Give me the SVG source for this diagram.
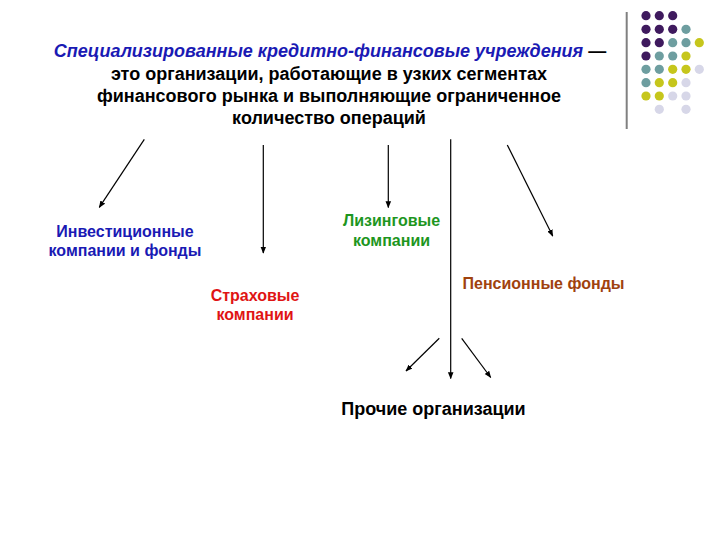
<svg xmlns="http://www.w3.org/2000/svg" width="720" height="540" viewBox="0 0 720 540">
<style>
.t{font-family:"Liberation Sans",Arial,sans-serif;font-weight:bold;text-anchor:middle}
.title{font-size:18px;fill:#000}
.lbl{font-size:16px}
.c{stroke:#000;stroke-width:1.2;fill:none;marker-end:url(#ah)}
.p{fill:#3f1a5e}.g{fill:#6e9ea0}.y{fill:#c6c61c}.l{fill:#d7d7e8}
</style>
<defs>
<marker id="ah" viewBox="0 0 10 10" refX="9" refY="5" markerWidth="7" markerHeight="7" markerUnits="userSpaceOnUse" orient="auto">
<path d="M0,1 L10,5 L0,9 Z" fill="#000"/>
</marker>
</defs>
<rect width="720" height="540" fill="#fff"/>
<g id="decor">
<line x1="626.7" y1="12" x2="626.7" y2="129" stroke="#808080" stroke-width="2"/>
<g>
<circle class="p" cx="646" cy="15.7" r="4.6"/><circle class="p" cx="659.3" cy="15.7" r="4.6"/><circle class="p" cx="672.7" cy="15.7" r="4.6"/>
<circle class="p" cx="646" cy="29.3" r="4.6"/><circle class="p" cx="659.3" cy="29.3" r="4.6"/><circle class="p" cx="672.7" cy="29.3" r="4.6"/><circle class="g" cx="686" cy="29.3" r="4.6"/>
<circle class="p" cx="646" cy="42.7" r="4.6"/><circle class="p" cx="659.3" cy="42.7" r="4.6"/><circle class="g" cx="672.7" cy="42.7" r="4.6"/><circle class="g" cx="686" cy="42.7" r="4.6"/><circle class="y" cx="699.3" cy="42.7" r="4.6"/>
<circle class="p" cx="646" cy="56" r="4.6"/><circle class="g" cx="659.3" cy="56" r="4.6"/><circle class="g" cx="672.7" cy="56" r="4.6"/><circle class="y" cx="686" cy="56" r="4.6"/>
<circle class="g" cx="646" cy="69.3" r="4.6"/><circle class="g" cx="659.3" cy="69.3" r="4.6"/><circle class="y" cx="672.7" cy="69.3" r="4.6"/><circle class="y" cx="686" cy="69.3" r="4.6"/><circle class="l" cx="699.3" cy="69.3" r="4.6"/>
<circle class="g" cx="646" cy="82.7" r="4.6"/><circle class="y" cx="659.3" cy="82.7" r="4.6"/><circle class="y" cx="672.7" cy="82.7" r="4.6"/><circle class="l" cx="686" cy="82.7" r="4.6"/>
<circle class="y" cx="646" cy="96" r="4.6"/><circle class="y" cx="659.3" cy="96" r="4.6"/><circle class="l" cx="672.7" cy="96" r="4.6"/><circle class="l" cx="686" cy="96" r="4.6"/>
<circle class="l" cx="659.3" cy="109.3" r="4.6"/><circle class="l" cx="686" cy="109.3" r="4.6"/>
</g>
</g>
<g id="title">
<text class="t title" x="330" y="57"><tspan fill="#1a1ab4" font-style="italic">Специализированные кредитно-финансовые учреждения</tspan> —</text>
<text class="t title" x="329" y="80">это организации, работающие в узких сегментах</text>
<text class="t title" x="329" y="102">финансового рынка и выполняющие ограниченное</text>
<text class="t title" x="329" y="124">количество операций</text>
</g>
<g id="connectors">
<line class="c" x1="144.3" y1="139.3" x2="99.3" y2="207.3"/>
<line class="c" x1="263.3" y1="145" x2="263.3" y2="253"/>
<line class="c" x1="388.3" y1="145" x2="388.3" y2="207.5"/>
<line class="c" x1="450.7" y1="139.3" x2="450.7" y2="378.5"/>
<line class="c" x1="507.3" y1="145" x2="552.7" y2="236"/>
<line class="c" x1="439.3" y1="338.3" x2="406" y2="371"/>
<line class="c" x1="461.7" y1="338.3" x2="490.7" y2="377.5"/>
</g>
<g id="n-invest">
<text class="t lbl" x="125" y="237" fill="#1a1ab4">Инвестиционные</text>
<text class="t lbl" x="125" y="256" fill="#1a1ab4">компании и фонды</text>
</g>
<g id="n-insurance">
<text class="t lbl" x="255" y="301" fill="#e01414">Страховые</text>
<text class="t lbl" x="255" y="320" fill="#e01414">компании</text>
</g>
<g id="n-leasing">
<text class="t lbl" x="391.5" y="226" fill="#1e961e">Лизинговые</text>
<text class="t lbl" x="391.5" y="246" fill="#1e961e">компании</text>
</g>
<g id="n-pension">
<text class="t lbl" x="543.5" y="289" fill="#a0420e">Пенсионные фонды</text>
</g>
<g id="n-other">
<text class="t" x="433.5" y="415" font-size="18" fill="#000">Прочие организации</text>
</g>
</svg>
